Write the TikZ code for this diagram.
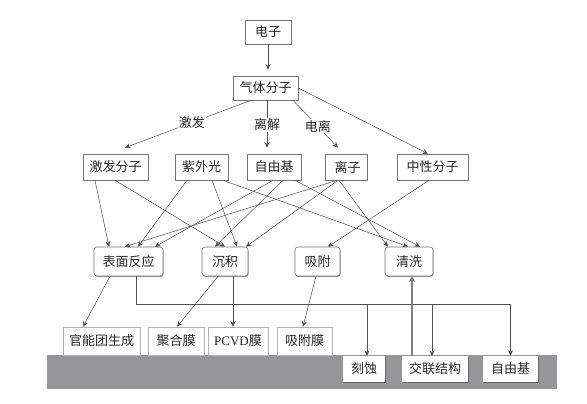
\documentclass[tikz,border=0pt]{standalone}
\usepackage{fontspec}
\setmainfont{Noto Sans CJK SC}
\newfontfamily\latinserif{Liberation Serif}
\usetikzlibrary{arrows.meta,shadows,calc}
\definecolor{bandgray}{RGB}{150,150,154}
\definecolor{edgegray}{RGB}{80,80,80}
\definecolor{boxgray}{RGB}{115,115,115}
\begin{document}
\begin{tikzpicture}[x=1pt,y=-1pt,
  txt/.style={font=\fontsize{13}{15}\selectfont, text=black!85},
  sqbox/.style={txt, draw=boxgray, line width=0.6pt, minimum height=26pt, inner sep=0pt, fill=white},
  rbox/.style={txt, draw=boxgray, line width=0.6pt, rounded corners=3pt, minimum height=29pt, inner sep=0pt, fill=white,
    drop shadow={shadow xshift=0.6pt, shadow yshift=-1pt, fill=black!50, opacity=0.8}},
  filmbox/.style={txt, draw=black!30, line width=0.6pt, minimum height=28pt, inner sep=0pt, fill=white,
    drop shadow={shadow xshift=1.3pt, shadow yshift=0pt, fill=black!55, opacity=1}},
  bandbox/.style={txt, fill=white, minimum height=26pt, inner sep=0pt,
    drop shadow={shadow xshift=1.3pt, shadow yshift=-1.3pt, fill=black!60, opacity=1}},
  arr/.style={draw=edgegray, line width=0.5pt, -{Stealth[length=5.5pt,width=5pt]}},
  lbl/.style={txt, fill=white, inner sep=1pt}
]
\useasboundingbox (0,0) rectangle (587,404);
\fill[white] (0,0) rectangle (587,404);

% substrate band
\fill[bandgray] (47,355) rectangle (557,389);

% level 1, 2
\node[sqbox, minimum width=46pt, minimum height=24pt] (ez) at (268,32) {电子};
\node[sqbox, minimum width=65pt, minimum height=24pt] (gas) at (265.5,88) {气体分子};

% level 3
\node[sqbox, minimum width=65pt] (jf) at (115.5,167) {激发分子};
\node[sqbox, minimum width=53pt] (zw) at (201.5,167) {紫外光};
\node[sqbox, minimum width=54pt] (zyj) at (274,167) {自由基};
\node[sqbox, minimum width=42pt, text depth=0pt] (lz) at (346,167) {\hspace*{3pt}离子};
\node[sqbox, minimum width=71pt] (zx) at (432.5,167) {中性分子};

% level 4
\node[rbox, minimum width=69pt] (bm) at (128.5,261.5) {表面反应};
\node[rbox, minimum width=46pt] (cj) at (225,261.5) {沉积};
\node[rbox, minimum width=45pt] (xf) at (317.5,261.5) {吸附};
\node[rbox, minimum width=48pt] (qx) at (409,261.5) {清洗};

% level 5 (films on substrate)
\node[filmbox, minimum width=77pt] (gn) at (101.5,341) {官能团生成};
\node[filmbox, minimum width=56pt] (jh) at (176,341) {聚合膜};
\node[filmbox, minimum width=60pt] (pc) at (238,341) {{\latinserif PCVD}膜};
\node[filmbox, minimum width=55pt] (xfm) at (304.5,341) {吸附膜};

% in the substrate
\node[bandbox, minimum width=42pt] (ks) at (364,369) {刻蚀};
\node[bandbox, minimum width=66pt] (jl) at (435,369) {交联结构};
\node[bandbox, minimum width=55pt] (zyb) at (510.5,369) {自由基};

% level 1 -> 2
\draw[arr, line width=0.9pt] (ez.south) -- ([yshift=6pt]ez.south |- gas.north);

% level 2 -> 3
\draw[arr] ([xshift=-14.5pt]gas.south) -- node[lbl, pos=0.47] {激发} ([xshift=9.5pt,yshift=6pt]jf.north);
\draw[arr, line width=0.8pt] ([xshift=1.5pt]gas.south) -- node[lbl, pos=0.52] {离解} ([xshift=-7pt,yshift=6pt]zyj.north);
\draw[arr] ([xshift=27.5pt]gas.south) -- node[lbl, pos=0.55] {电离} ([xshift=-8pt,yshift=6pt]lz.north);
\draw[arr] (gas.east) -- ([xshift=-4.5pt]zx.north);

% level 3 -> 4
\draw[arr] ([xshift=-20.5pt]jf.south) -- ([xshift=-19.5pt]bm.north);
\draw[arr] ([xshift=-0.5pt]jf.south) -- ([xshift=0pt]cj.north);
\draw[arr] ([xshift=-14.5pt]zw.south) -- ([xshift=9.5pt]bm.north);
\draw[arr] ([xshift=10.5pt]zw.south) -- ([xshift=12pt]cj.north);
\draw[arr] ([xshift=21.5pt]zw.south) -- ([xshift=-1pt]qx.north);
\draw[arr] ([xshift=-1pt]zyj.south) -- ([xshift=26.5pt]bm.north);
\draw[arr] ([xshift=9pt]zyj.south) -- ([xshift=-10pt]cj.north);
\draw[arr] ([xshift=21pt]zyj.south) -- ([xshift=11pt]qx.north);
\draw[arr] ([xshift=-9pt]lz.south) -- ([xshift=-3.5pt]bm.north);
\draw[arr] ([xshift=-8pt]lz.south) -- ([xshift=21pt]cj.north);
\draw[arr] ([xshift=-7pt]lz.south) -- ([xshift=-21pt]qx.north);
\draw[arr] ([xshift=-3.5pt]zx.south) -- ([xshift=10.5pt]xf.north);

% level 4 -> 5
\draw[arr] ([xshift=-18.5pt]bm.south) -- ([xshift=-18.5pt]gn.north);
\draw[arr] ([xshift=-7pt]cj.south) -- ([xshift=1pt]jh.north);
\draw[arr] ([xshift=8pt]cj.south) -- ([xshift=-5pt]pc.north);
\draw[arr] ([xshift=-1.5pt]xf.south) -- ([xshift=-1.5pt]xfm.north);

% bus from surface reaction to substrate products
\coordinate (bus) at (0,304);
\draw[arr] ([xshift=7.5pt]bm.south) |- (bus -| zyb.north) -- (zyb.north);
\draw[arr] ([xshift=3pt]ks.north |- bus) -- ([xshift=3pt]ks.north);
\draw[arr] ([xshift=-3pt]jl.north |- bus) -- ([xshift=-3pt]jl.north);

% crosslinked structure -> cleaning
\draw[draw=black!50, line width=1.3pt, -{Straight Barb[length=4pt,width=5pt]}] ([xshift=-23pt]jl.north) -- ([xshift=-23pt]jl.north |- qx.south);
\end{tikzpicture}
\end{document}
